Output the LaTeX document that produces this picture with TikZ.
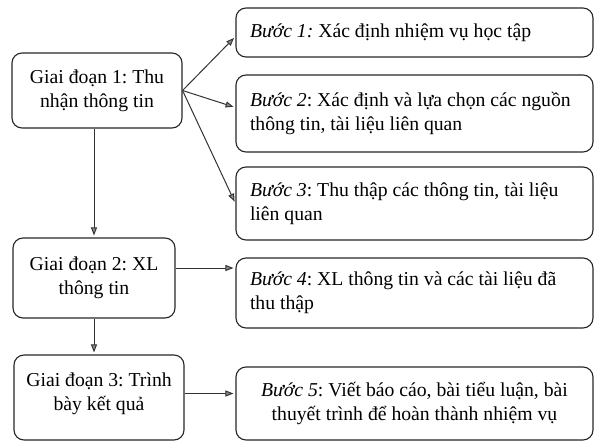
\documentclass[tikz,border=0pt]{standalone}
\usepackage{fontspec}
\setmainfont{Liberation Serif}
\usetikzlibrary{arrows.meta}
\begin{document}
\frenchspacing
\begin{tikzpicture}[x=1pt,y=-1pt,
  box/.style={draw=black!85, line width=1.1pt, rounded corners=10pt,
    font=\fontsize{19.7}{24}\selectfont\frenchspacing, inner sep=0pt},
  phase/.style={box, align=center},
  stepbox/.style={box, minimum width=357pt, text width=329pt, inner xsep=14pt, align=flush left},
  stepc/.style={box, minimum width=357pt, text width=343pt, inner xsep=7pt, align=flush center},
  link/.style={draw=black!80, line width=1pt,
    -{Triangle[length=8pt,width=6pt,fill=black!45]}, shorten >=2pt}
]
\useasboundingbox (0,0) rectangle (596,441);

% stages
\node[phase, minimum width=170pt, minimum height=75pt] (g1) at (97,90.5)
  {Giai đoạn 1: Thu\\nhận thông tin};
\node[phase, minimum width=162pt, minimum height=80pt] (g2) at (94,278)
  {Giai đoạn 2: XL\\thông tin};
\node[phase, minimum width=170pt, minimum height=85pt, text depth=12pt] (g3) at (99,397.5)
  {Giai đoạn 3: Trình\\bày kết quả};

% steps
\node[stepbox, minimum height=49pt] (b1) at (414.5,32.5)
  {\mbox{\textit{Bước 1:} Xác định nhiệm vụ học tập}};
\node[stepbox, minimum height=77pt] (b2) at (414.5,113.5)
  {\mbox{\textit{Bước 2}: Xác định và lựa chọn các nguồn}\\thông tin, tài liệu liên quan};
\node[stepbox, minimum height=73pt] (b3) at (414.5,203.5)
  {\mbox{\textit{Bước 3}: Thu thập các thông tin, tài liệu}\\liên quan};
\node[stepbox, minimum height=70pt] (b4) at (414.5,293)
  {\mbox{\textit{Bước 4}: XL thông tin và các tài liệu đã}\\thu thập};
\node[stepc, minimum height=73pt] (b5) at (414.5,403.5)
  {\textit{Bước 5}: Viết báo cáo, bài tiểu luận, bài\\thuyết trình để hoàn thành nhiệm vụ};

% connectors
\draw[link] (g1.east) -- ([yshift=-4pt]b1.west);
\draw[link] (g1.east) -- ([yshift=6pt]b2.west);
\draw[link] (g1.east) -- (b3.west);
\draw[link] (g2.north |- g1.south) -- (g2.north);
\draw[link] (g2.north |- g2.south) -- (g2.north |- g3.north);
\coordinate (c4) at ([yshift=10pt]g2.east);
\draw[link] (c4) -- (c4 -| b4.west);
\coordinate (c5) at ([yshift=4pt]g3.east);
\draw[link] (c5) -- (c5 -| b5.west);
\end{tikzpicture}
\end{document}
